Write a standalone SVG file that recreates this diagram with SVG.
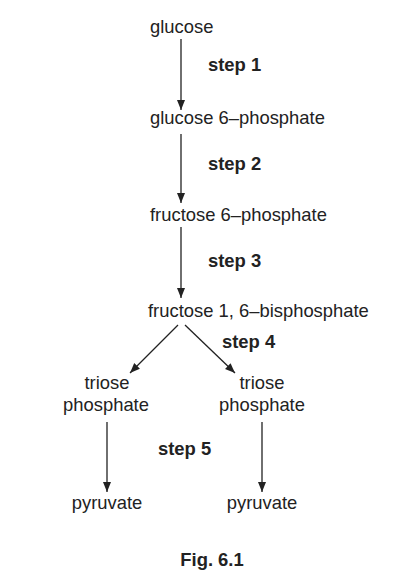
<svg xmlns="http://www.w3.org/2000/svg" width="416" height="583" viewBox="0 0 416 583">
<style>
text{font-family:"Liberation Sans",Arial,sans-serif;font-size:18.4px;fill:#222}
.b{font-weight:bold}
.m{text-anchor:middle}
.c line{stroke:#222;stroke-width:1.3;marker-end:url(#ah)}
</style>
<defs>
<marker id="ah" viewBox="0 0 10 10" refX="10" refY="5" markerWidth="10" markerHeight="10" markerUnits="userSpaceOnUse" orient="auto">
<path d="M0,1 L10,5 L0,9 Z" fill="#222"/>
</marker>
</defs>
<rect width="416" height="583" fill="#fff"/>
<g class="c" id="connectors">
<line x1="181" y1="39" x2="181" y2="110"/>
<line x1="181" y1="134" x2="181" y2="203"/>
<line x1="181" y1="227" x2="181" y2="298"/>
<line x1="178" y1="325" x2="130" y2="373"/>
<line x1="185" y1="325" x2="235" y2="373"/>
<line x1="107" y1="422" x2="107" y2="492"/>
<line x1="262" y1="422" x2="262" y2="492"/>
</g>
<g id="glucose"><text x="150" y="33">glucose</text></g>
<g id="g6p"><text x="150" y="124">glucose 6–phosphate</text></g>
<g id="f6p"><text x="150" y="221">fructose 6–phosphate</text></g>
<g id="f16bp"><text x="148" y="317">fructose 1, 6–bisphosphate</text></g>
<g id="triose1"><text class="m" x="107" y="389">triose</text><text class="m" x="106" y="411">phosphate</text></g>
<g id="triose2"><text class="m" x="262" y="389">triose</text><text class="m" x="262" y="411">phosphate</text></g>
<g id="pyr1"><text class="m" x="107" y="509">pyruvate</text></g>
<g id="pyr2"><text class="m" x="262" y="509">pyruvate</text></g>
<g id="labels">
<text class="b" x="208" y="71">step 1</text>
<text class="b" x="208" y="170">step 2</text>
<text class="b" x="208" y="267">step 3</text>
<text class="b" x="222" y="348">step 4</text>
<text class="b" x="158" y="455">step 5</text>
<text class="b m" x="212" y="566">Fig. 6.1</text>
</g>
</svg>
